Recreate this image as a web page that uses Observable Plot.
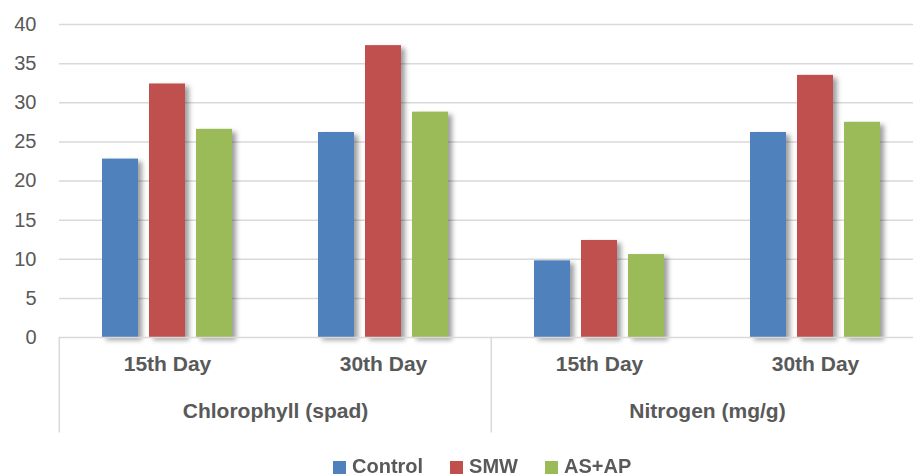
<!DOCTYPE html>
<html><head><meta charset="utf-8">
<script src="https://cdn.jsdelivr.net/npm/d3@7"></script>
<script src="https://cdn.jsdelivr.net/npm/@observablehq/plot@0.6"></script>
<style>
body{margin:0;background:#fff;}
#wrap{position:relative;width:913px;height:476px;overflow:hidden;font-family:"Liberation Sans",Arial,sans-serif;background:#fff;}
#chart{width:924px;}
#chart svg{display:block;max-width:none !important;width:924px !important;height:450px !important;}
g[aria-label="bar"]{filter:drop-shadow(4px 3px 2.5px rgba(0,0,0,0.38));}
#legend{position:absolute;left:333px;top:455px;display:flex;align-items:center;height:22px;}
.item{display:flex;align-items:center;margin-right:27px;font-weight:bold;font-size:20px;color:#595959;}
.sw{width:13px;height:13px;margin-right:6px;margin-top:3px;}
</style>
</head><body>
<div id="wrap"><div id="chart"></div><div id="legend"></div></div>
<script>
const groups = ["Chlorophyll (spad)", "Nitrogen (mg/g)"];
const days = ["15th Day", "30th Day"];
const series = ["Control", "SMW", "AS+AP"];
const colors = ["#4f81bd", "#c0504d", "#9bbb59"];
// order: Chlorophyll 15th, Chlorophyll 30th, Nitrogen 15th, Nitrogen 30th
const control = [22.8, 26.2, 9.8, 26.2];
const smw = [32.4, 37.3, 12.4, 33.5];
const asap = [26.6, 28.8, 10.6, 27.5];
const yTicks = [0, 5, 10, 15, 20, 25, 30, 35, 40];

const valuesBySeries = [control, smw, asap];
const keys = [];
const dayRows = [];
groups.forEach((g, gi) => days.forEach((d, di) => {
  const key = g + "|" + d;
  keys.push(key);
  dayRows.push({key, day: d, group: g, first: di === 0, idx: gi * 2 + di});
}));
const rows = [];
dayRows.forEach(r => series.forEach((s, si) => rows.push({key: r.key, series: s, value: valuesBySeries[si][r.idx]})));
const groupRows = dayRows.filter(r => r.first);
const halfFacet = (924 - 58) / keys.length / 2;
const dividers = [
  {key: keys[0], dx: -halfFacet},
  {key: keys[2], dx: -halfFacet},
  {key: keys[3], dx: halfFacet}
];

const chart = Plot.plot({
  width: 924, height: 450,
  marginTop: 24, marginBottom: 113, marginLeft: 58, marginRight: 0,
  style: {fontFamily: "'Liberation Sans', Arial, sans-serif", background: "transparent"},
  fx: {domain: keys, padding: 0, axis: null, label: null},
  x: {domain: series, paddingInner: 0.23, paddingOuter: 0.87, axis: null, label: null},
  y: {domain: [0, 40], label: null},
  color: {domain: series, range: colors},
  marks: [
    Plot.gridY(yTicks.filter(t => t > 0), {stroke: "#d9d9d9", strokeOpacity: 1, strokeWidth: 1.5}),
    Plot.axisY({ticks: yTicks, tickSize: 0, tickPadding: 23, fontSize: 20, fill: "#595959", label: null}),
    Plot.barY(rows, {fx: "key", x: "series", y: "value", fill: "series"}),
    Plot.ruleY([0], {stroke: "#d9d9d9", strokeWidth: 1.5}),
    ...dividers.map(d => Plot.ruleX([d], {fx: "key", x: null, y1: 0, y2: -12.2, dx: d.dx, stroke: "#d9d9d9", strokeWidth: 1.5})),
    Plot.text(dayRows, {fx: "key", text: "day", frameAnchor: "bottom", dy: 33, fontSize: 21, fontWeight: "bold", fill: "#595959"}),
    Plot.text(groupRows, {fx: "key", text: "group", frameAnchor: "bottom-right", textAnchor: "middle", dy: 80, fontSize: 21, fontWeight: "bold", fill: "#595959"})
  ]
});
document.getElementById("chart").appendChild(chart);

const legend = document.getElementById("legend");
series.forEach((s, i) => {
  const it = document.createElement("div");
  it.className = "item";
  const sw = document.createElement("div");
  sw.className = "sw";
  sw.style.background = colors[i];
  const tx = document.createElement("span");
  tx.textContent = s;
  it.appendChild(sw); it.appendChild(tx);
  legend.appendChild(it);
});
</script>
</body></html>
